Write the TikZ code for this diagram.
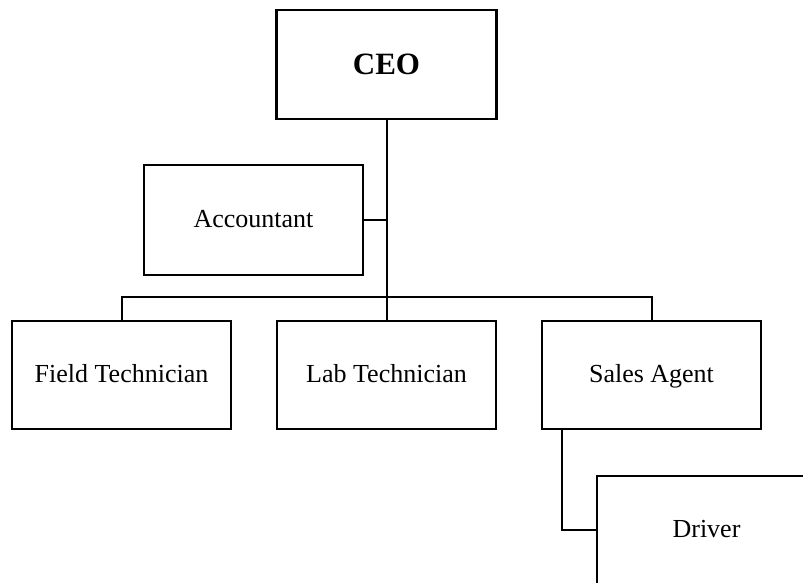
\documentclass[tikz,border=0pt]{standalone}
\usepackage{fontspec}
\setmainfont{Liberation Serif}
\begin{document}
\begin{tikzpicture}[x=1pt,y=-1pt,
  box/.style={draw=black,line width=2.2pt,fill=white,minimum width=219pt,minimum height=108pt,inner sep=0pt,text height=21pt,text depth=6pt,font=\fontsize{26}{30}\selectfont},
  conn/.style={draw=black,line width=2pt}]
\useasboundingbox (0,0) rectangle (803,583);
\begin{scope}
\clip (0,0) rectangle (803,583);
\node[box,font=\bfseries\fontsize{31}{36}\selectfont,text height=24pt,text depth=3pt,minimum width=220pt,minimum height=109pt] (ceo) at (386.5,64.5) {CEO};
\node[box,minimum height=110pt] (acc) at (253.5,220) {Accountant};
\node[box] (field) at (121.5,375) {Field Technician};
\node[box] (lab) at (386.5,375) {Lab Technician};
\node[box] (sales) at (651.5,375) {Sales Agent};
\node[box] (driver) at (706.5,530) {Driver};
\coordinate (bar) at (386.5,297);
\draw[conn] (ceo.south) -- (lab.north);
\draw[conn] (acc.east) -- (acc.east -| ceo.south);
\draw[conn] (field.north) |- (bar) -| (sales.north);
\draw[conn] ([xshift=21pt]sales.south west) |- (driver.west);
\end{scope}
\end{tikzpicture}
\end{document}
